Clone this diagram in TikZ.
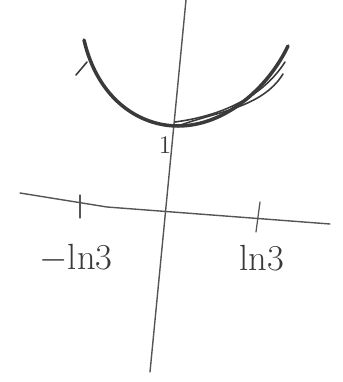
\documentclass[tikz,border=0pt]{standalone}
\usetikzlibrary{calc}
\definecolor{Pencil}{HTML}{3A3A3A}
\definecolor{Lead}{HTML}{555555}

\begin{document}
\begin{tikzpicture}[x=0.02cm,y=-0.02cm,line cap=round,line join=round,
  axis/.style={draw=Lead,line width=0.8pt},
  tick/.style={draw=Lead,line width=0.7pt},
  stroke/.style={draw=Pencil,line width=2pt},
  thin stroke/.style={draw=Pencil,line width=0.9pt},
  lbl/.style={text=Pencil,inner sep=0pt,font=\huge}]
 \useasboundingbox (0,0) rectangle (342,382);
 % axes
 \coordinate (ytop) at (186,0);
 \coordinate (ybot) at (150,372);
 \coordinate (xleft) at (20,193);
 \coordinate (xmid) at (107,207);
 \coordinate (xright) at (330,224);
 \draw[axis] (ytop)--(ybot);
 \draw[axis] (xleft)--(xmid)--(xright);
 % ticks
 \coordinate (tl1) at (80,195); \coordinate (tl2) at (80,218);
 \coordinate (tr1) at (260,202); \coordinate (tr2) at (256,232);
 \draw[tick] (tl1)--(tl2);
 \draw[tick] (tr1)--(tr2);
 \node[lbl] (lnleft) at (76,258) {$-$ln3};
 \node[lbl] (lnright) at (262,258) {ln3};
 % curve
 \coordinate (cl) at (84,40);
 \coordinate (cmin) at (178,126);
 \coordinate (cr) at (288,46);
 \coordinate (cr2) at (283,74);
 \draw[stroke] (cl) .. controls (98,100) and (140,126) .. (cmin)
   .. controls (225,126) and (268,88) .. (cr);
 \draw[thin stroke] (cmin) .. controls (215,112) and (262,108) .. (cr2);
 \draw[thin stroke] (175,122) .. controls (220,116) and (262,98) .. (285,62);
 \coordinate (h1) at (76,75); \coordinate (h2) at (87,62);
 \draw[thin stroke] (h1)--(h2);
 \node[lbl,font=\Large] (one) at (165,145) {1};
\end{tikzpicture}
\end{document}
